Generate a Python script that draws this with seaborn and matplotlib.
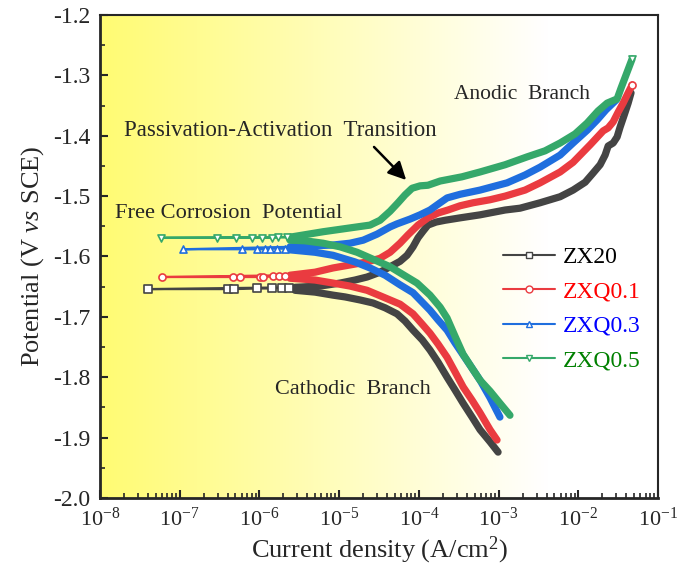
import numpy as np
import pandas as pd
import matplotlib
matplotlib.use("Agg")
import matplotlib.pyplot as plt
import seaborn as sns
from matplotlib.ticker import (LogLocator, LogFormatterMathtext, MultipleLocator,
                               NullFormatter, FormatStrFormatter)
from matplotlib.lines import Line2D

# ---------------- data: current density (A/cm2) and potential (V vs SCE) ----------------
samples = ["ZX20", "ZXQ0.1", "ZXQ0.3", "ZXQ0.5"]

# ZX20
zx20_ecorr_i = [4.0e-8, 4.04e-7, 4.8e-7, 9.33e-7, 1.44e-6, 1.92e-6, 2.35e-6]
zx20_ecorr_E = [-1.654, -1.654, -1.654, -1.653, -1.653, -1.652, -1.652]
zx20_cath_i = [9.86e-4, 7.82e-4, 5.86e-4, 4.65e-4, 3.59e-4, 2.84e-4, 2.26e-4, 1.74e-4, 1.38e-4, 1.10e-4,
               8.45e-5, 6.71e-5, 5.32e-5, 3.77e-5, 2.66e-5, 1.83e-5, 1.19e-5, 8.37e-6, 4.99e-6, 2.80e-6]
zx20_cath_E = [-1.924, -1.907, -1.887, -1.866, -1.843, -1.821, -1.800, -1.775, -1.755, -1.738,
               -1.722, -1.707, -1.695, -1.685, -1.677, -1.672, -1.667, -1.664, -1.659, -1.656]
zx20_anod_i = [2.80e-6, 5.75e-6, 1.03e-5, 1.58e-5, 2.24e-5, 3.26e-5, 4.36e-5, 5.81e-5, 7.11e-5, 8.45e-5,
               9.77e-5, 1.13e-4, 1.30e-4, 1.64e-4, 2.13e-4, 3.29e-4, 5.86e-4, 1.21e-3, 1.86e-3, 3.32e-3,
               5.92e-3, 8.61e-3, 1.22e-2, 1.53e-2, 1.88e-2, 2.17e-2, 2.37e-2, 2.74e-2, 3.07e-2, 3.34e-2,
               3.76e-2, 4.22e-2, 4.59e-2]
zx20_anod_E = [-1.651, -1.649, -1.644, -1.639, -1.634, -1.626, -1.617, -1.608, -1.598, -1.584,
               -1.569, -1.558, -1.548, -1.543, -1.540, -1.536, -1.531, -1.523, -1.520, -1.511,
               -1.501, -1.490, -1.477, -1.462, -1.448, -1.432, -1.417, -1.412, -1.402, -1.386,
               -1.366, -1.346, -1.329]

# ZXQ0.1
zxq01_ecorr_i = [6.0e-8, 4.67e-7, 5.7e-7, 1.02e-6, 1.11e-6, 1.48e-6, 1.76e-6, 2.09e-6]
zxq01_ecorr_E = [-1.634, -1.634, -1.634, -1.634, -1.634, -1.633, -1.633, -1.633]
zxq01_cath_i = [9.57e-4, 7.82e-4, 5.86e-4, 4.65e-4, 3.59e-4, 2.84e-4, 2.26e-4, 1.74e-4, 1.38e-4, 1.10e-4,
                8.45e-5, 5.81e-5, 3.26e-5, 2.24e-5, 1.37e-5, 8.37e-6, 4.99e-6, 2.42e-6]
zxq01_cath_E = [-1.904, -1.887, -1.859, -1.838, -1.816, -1.791, -1.767, -1.745, -1.727, -1.712,
                -1.695, -1.679, -1.665, -1.656, -1.649, -1.644, -1.639, -1.636]
zxq01_anod_i = [2.42e-6, 4.99e-6, 8.37e-6, 1.37e-5, 2.24e-5, 3.26e-5, 4.36e-5, 5.81e-5, 7.33e-5, 9.77e-5,
                1.30e-4, 1.74e-4, 2.32e-4, 3.29e-4, 4.79e-4, 7.82e-4, 1.21e-3, 2.15e-3, 3.32e-3, 5.92e-3,
                8.61e-3, 1.41e-2, 2.05e-2, 2.37e-2, 2.74e-2, 3.16e-2, 3.65e-2, 4.22e-2, 4.73e-2]
zxq01_anod_E = [-1.631, -1.626, -1.619, -1.614, -1.609, -1.603, -1.593, -1.578, -1.564, -1.548,
                -1.536, -1.528, -1.523, -1.516, -1.511, -1.506, -1.500, -1.490, -1.478, -1.460,
                -1.444, -1.415, -1.392, -1.387, -1.377, -1.361, -1.346, -1.329, -1.316]

# ZXQ0.3
zxq03_ecorr_i = [1.1e-7, 6.05e-7, 9.33e-7, 1.17e-6, 1.36e-6, 1.66e-6, 2.09e-6]
zxq03_ecorr_E = [-1.588, -1.588, -1.588, -1.588, -1.587, -1.587, -1.587]
zxq03_cath_i = [1.04e-3, 7.82e-4, 5.86e-4, 4.65e-4, 3.59e-4, 2.84e-4, 2.26e-4, 1.74e-4, 1.38e-4, 1.035e-4,
                8.45e-5, 5.81e-5, 3.77e-5, 2.44e-5, 1.58e-5, 8.37e-6, 4.99e-6, 2.42e-6]
zxq03_cath_E = [-1.866, -1.834, -1.805, -1.785, -1.763, -1.743, -1.722, -1.705, -1.689, -1.672,
                -1.660, -1.647, -1.631, -1.619, -1.609, -1.598, -1.593, -1.589]
zxq03_anod_i = [2.42e-6, 8.37e-6, 1.37e-5, 2.0e-5, 2.99e-5, 4.36e-5, 5.32e-5, 7.76e-5, 1.035e-4, 1.38e-4,
                1.85e-4, 2.26e-4, 3.29e-4, 5.86e-4, 1.28e-3, 2.15e-3, 3.32e-3, 5.92e-3, 8.61e-3, 1.29e-2,
                1.72e-2, 2.23e-2, 2.98e-2]
zxq03_anod_E = [-1.584, -1.581, -1.578, -1.573, -1.563, -1.551, -1.546, -1.538, -1.531, -1.523,
                -1.511, -1.503, -1.497, -1.490, -1.478, -1.465, -1.452, -1.432, -1.412, -1.391,
                -1.374, -1.357, -1.341]

# ZXQ0.5
zxq05_ecorr_i = [5.8e-8, 2.94e-7, 5.08e-7, 8.07e-7, 1.08e-6, 1.44e-6, 1.71e-6, 2.22e-6]
zxq05_ecorr_E = [-1.569, -1.569, -1.569, -1.569, -1.569, -1.569, -1.568, -1.568]
zxq05_cath_i = [1.39e-3, 1.04e-3, 7.82e-4, 5.86e-4, 4.65e-4, 3.59e-4, 2.84e-4, 2.26e-4, 1.85e-4, 1.38e-4,
                9.48e-5, 6.71e-5, 4.36e-5, 2.82e-5, 1.68e-5, 1.03e-5, 6.28e-6, 3.73e-6, 2.42e-6]
zxq05_cath_E = [-1.863, -1.843, -1.823, -1.805, -1.785, -1.762, -1.732, -1.702, -1.684, -1.664,
                -1.644, -1.632, -1.617, -1.606, -1.593, -1.584, -1.578, -1.574, -1.573]
zxq05_anod_i = [2.42e-6, 6.28e-6, 1.68e-5, 2.44e-5, 3.26e-5, 4.36e-5, 5.48e-5, 6.71e-5, 8.22e-5, 1.035e-4,
                1.30e-4, 1.85e-4, 3.48e-4, 5.86e-4, 1.21e-3, 2.28e-3, 3.83e-3, 5.92e-3, 9.12e-3, 1.29e-2,
                1.77e-2, 2.30e-2, 3.07e-2, 3.44e-2, 3.98e-2, 4.73e-2]
zxq05_anod_E = [-1.568, -1.559, -1.551, -1.548, -1.540, -1.525, -1.511, -1.498, -1.487, -1.483,
                -1.482, -1.475, -1.468, -1.460, -1.448, -1.435, -1.425, -1.412, -1.397, -1.379,
                -1.359, -1.346, -1.339, -1.321, -1.299, -1.273]

x_ticks = [1e-8, 1e-7, 1e-6, 1e-5, 1e-4, 1e-3, 1e-2, 1e-1]
y_ticks = [-2.0, -1.9, -1.8, -1.7, -1.6, -1.5, -1.4, -1.3, -1.2]

# ---------------- styling ----------------
line_colors = {"ZX20": "#444444", "ZXQ0.1": "#ea3b40", "ZXQ0.3": "#1f6ede", "ZXQ0.5": "#35a86a"}
text_colors = {"ZX20": "#000000", "ZXQ0.1": "#ff0000", "ZXQ0.3": "#0000ff", "ZXQ0.5": "#008000"}
markers = {"ZX20": "s", "ZXQ0.1": "o", "ZXQ0.3": "^", "ZXQ0.5": "v"}
show_end_marker = {"ZX20": False, "ZXQ0.1": True, "ZXQ0.3": False, "ZXQ0.5": True}

curves = {
    "ZX20": (zx20_ecorr_i, zx20_ecorr_E, zx20_cath_i, zx20_cath_E, zx20_anod_i, zx20_anod_E),
    "ZXQ0.1": (zxq01_ecorr_i, zxq01_ecorr_E, zxq01_cath_i, zxq01_cath_E, zxq01_anod_i, zxq01_anod_E),
    "ZXQ0.3": (zxq03_ecorr_i, zxq03_ecorr_E, zxq03_cath_i, zxq03_cath_E, zxq03_anod_i, zxq03_anod_E),
    "ZXQ0.5": (zxq05_ecorr_i, zxq05_ecorr_E, zxq05_cath_i, zxq05_cath_E, zxq05_anod_i, zxq05_anod_E),
}

sns.set_theme(style="ticks")
plt.rcParams["font.family"] = ["Liberation Serif", "DejaVu Serif"]
plt.rcParams["mathtext.fontset"] = "custom"
plt.rcParams["mathtext.rm"] = "Liberation Serif"
plt.rcParams["mathtext.it"] = "Liberation Serif:italic"
plt.rcParams["mathtext.bf"] = "Liberation Serif:bold"

fig = plt.figure(figsize=(6.83, 5.74), dpi=100)
pos = [0.1464, 0.1324, 0.8170, 0.8415]

# yellow-to-white background behind the plotting area
bg = fig.add_axes(pos, zorder=0)
frac = np.linspace(0, 1, 600)
t = np.clip(frac / 0.80, 0, 1)
yellow = np.array([1.0, 0.985, 0.45])
white = np.array([1.0, 1.0, 1.0])
grad = yellow[None, :] * (1 - t[:, None]) + white[None, :] * t[:, None]
bg.imshow(grad[None, :, :], aspect="auto", extent=[0, 1, 0, 1])
bg.set_axis_off()

ax = fig.add_axes(pos, zorder=1)
ax.set_facecolor("none")

for name in samples:
    ei, eE, ci, cE, ai, aE = curves[name]
    c = line_colors[name]
    # full scan path: cathodic branch -> around Ecorr -> anodic branch
    path = pd.DataFrame({
        "i": list(ci) + list(ei[::-1]) + list(ai),
        "E": list(cE) + list(eE[::-1]) + list(aE),
    })
    sns.lineplot(data=path, x="i", y="E", sort=False, estimator=None, color=c, lw=1.6, ax=ax)
    cath = pd.DataFrame({"i": ci, "E": cE})
    anod = pd.DataFrame({"i": ai, "E": aE})
    for branch in (cath, anod):
        sns.lineplot(data=branch, x="i", y="E", sort=False, estimator=None, color=c, lw=5.2,
                     solid_capstyle="round", solid_joinstyle="round", ax=ax)
    pts_i = list(ei) + ([ai[-1]] if show_end_marker[name] else [])
    pts_E = list(eE) + ([aE[-1]] if show_end_marker[name] else [])
    pts = pd.DataFrame({"i": pts_i, "E": pts_E})
    sns.scatterplot(data=pts, x="i", y="E", marker=markers[name], s=26, color="white",
                    edgecolor=c, linewidth=1.2, ax=ax, zorder=5)

ax.set_xscale("log")
ax.set_xlim(1e-8, 1e-1)
ax.set_ylim(-2.0, -1.2)
ax.set_xticks(x_ticks)
ax.xaxis.set_major_formatter(LogFormatterMathtext())
ax.xaxis.set_minor_locator(LogLocator(base=10, subs=np.arange(2, 10), numticks=100))
ax.xaxis.set_minor_formatter(NullFormatter())
ax.set_yticks(y_ticks)
ax.yaxis.set_major_formatter(FormatStrFormatter("%.1f"))
ax.yaxis.set_minor_locator(MultipleLocator(0.05))

ax.tick_params(axis="both", which="major", direction="in", length=6, width=1.5,
               labelsize=16, pad=7, top=False, right=False)
ax.tick_params(axis="y", which="major", labelsize=17)
ax.tick_params(axis="both", which="minor", direction="in", length=3.5, width=1.2,
               top=False, right=False)
for side in ["left", "bottom"]:
    ax.spines[side].set_linewidth(2.0)
for side in ["top", "right"]:
    ax.spines[side].set_linewidth(1.5)
    ax.spines[side].set_visible(True)

ax.set_xlabel("Current density (A/cm$^2$)", fontsize=19, labelpad=3)
ax.set_ylabel("Potential (V $\\mathit{vs}$ SCE)", fontsize=19, labelpad=5)

# annotations
ax.text(1.97e-3, -1.3325, "Anodic  Branch", fontsize=15.5, ha="center", va="center")
ax.text(1.81e-6, -1.3905, "Passivation-Activation  Transition", fontsize=16.5, ha="center", va="center")
ax.text(4.16e-7, -1.5296, "Free Corrosion  Potential", fontsize=16.2, ha="center", va="center")
ax.text(1.49e-5, -1.821, "Cathodic  Branch", fontsize=16, ha="center", va="center")
ax.annotate("", xy=(7.33e-5, -1.4766), xytext=(2.59e-5, -1.4153),
            arrowprops=dict(arrowstyle="-|>,head_length=0.9,head_width=0.45", color="black", lw=1.8))

handles = [Line2D([], [], color=line_colors[n], lw=1.5, marker=markers[n], markersize=5,
                  markerfacecolor="white", markeredgecolor=line_colors[n], markeredgewidth=1.0)
           for n in samples]
leg = ax.legend(handles, samples, loc="upper left", bbox_to_anchor=(0.684, 0.565), frameon=False,
                fontsize=17, handlelength=2.2, handletextpad=0.35, labelspacing=0.55,
                labelcolor=[text_colors[n] for n in samples])

fig.savefig("out.png", dpi=100)
